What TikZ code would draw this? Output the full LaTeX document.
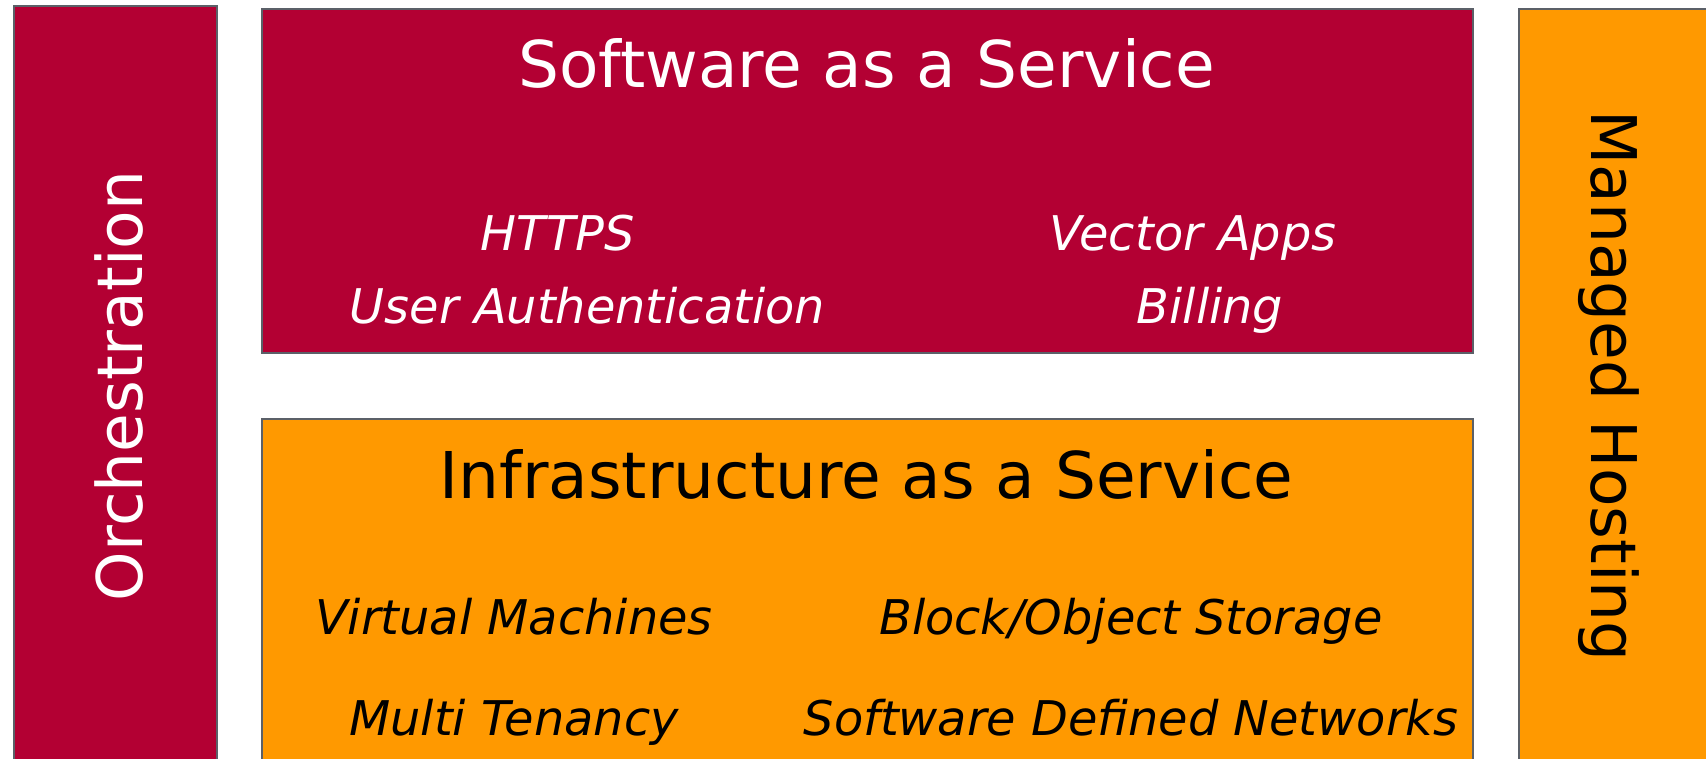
\documentclass[tikz,border=0pt]{standalone}
\usepackage{fontspec}
\setmainfont{DejaVu Sans}
\definecolor{crim}{HTML}{B30033}
\definecolor{orng}{HTML}{FF9900}
\definecolor{edgegrey}{HTML}{5B6068}
\begin{document}
\begin{tikzpicture}[x=1pt,y=-1pt,
  box/.style={draw=edgegrey, line width=2pt, inner sep=0pt, anchor=north west},
  title/.style={font=\fontsize{64.5}{76}\selectfont, inner sep=0pt, anchor=base},
  sidetitle/.style={font=\fontsize{63}{76}\selectfont, inner sep=0pt, anchor=base},
  item/.style={font=\fontsize{47.8}{57}\selectfont\itshape, inner sep=0pt, anchor=base}]
\useasboundingbox (0,0) rectangle (1706,759);
\clip (0,0) rectangle (1706,759);
\fill[white] (0,0) rectangle (1706,759);
\node[box, fill=crim, minimum width=203pt, minimum height=800pt] (orch) at (13,5) {};
\node[box, fill=crim, minimum width=1211pt, minimum height=344pt] (saas) at (261,8) {};
\node[box, fill=orng, minimum width=1211pt, minimum height=400pt] (iaas) at (261,418) {};
\node[box, fill=orng, minimum width=250pt, minimum height=800pt] (mh) at (1518,8) {};
\node[sidetitle, text=white, rotate=90] (orcht) at (142,386) {Orchestration};
\node[sidetitle, text=black, rotate=-90] (mht) at (1591,386) {Managed Hosting};
\node[title, text=white] (saast) at (866.6,88) {Software as a Service};
\node[title, text=black] (iaast) at (866.6,498.5) {Infrastructure as a Service};
\node[item, text=white] (https) at (557.6,251) {HTTPS};
\node[item, text=white] (vapps) at (1193,251) {Vector Apps};
\node[item, text=white] (uauth) at (587.5,324) {User Authentication};
\node[item, text=white] (bill) at (1210,324) {Billing};
\node[item, text=black] (vm) at (514,634) {Virtual Machines};
\node[item, text=black] (bos) at (1131,634) {Block/Object Storage};
\node[item, text=black] (mt) at (514,735) {Multi Tenancy};
\node[item, text=black] (sdn) at (1131,735) {Software Defined Networks};
\end{tikzpicture}
\end{document}
